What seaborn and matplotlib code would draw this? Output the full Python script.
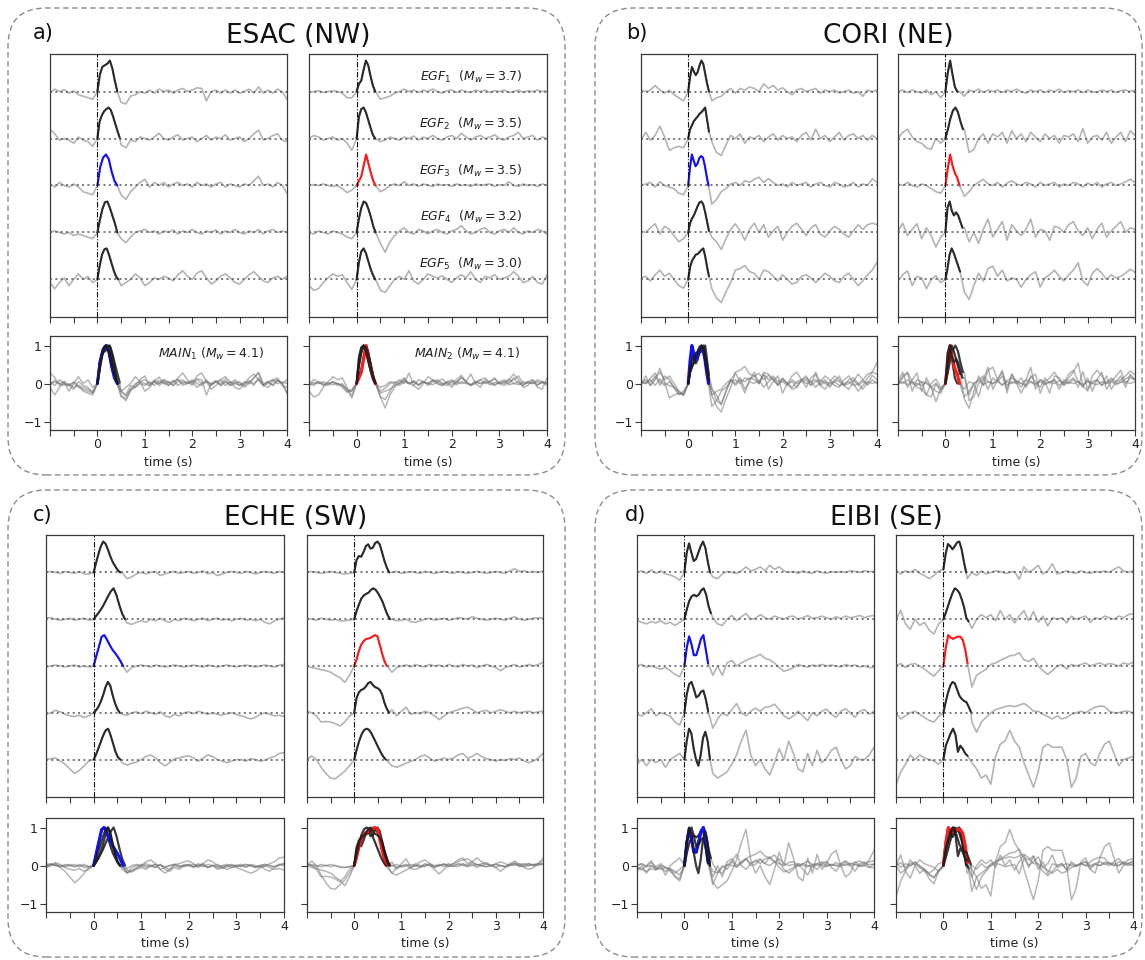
import numpy as np
import matplotlib
matplotlib.use("Agg")
import matplotlib.pyplot as plt
import seaborn as sns
from matplotlib.patches import FancyBboxPatch

# ---------------------------------------------------------------------------
# Data: normalised waveforms on a 0.1 s grid from -1 s to 4 s (51 samples);
# the RSTF pulses are sampled finely from 0 s to their end time.
# ---------------------------------------------------------------------------
EGF_MW = [3.7, 3.5, 3.5, 3.2, 3.0]
MAIN_MW = [4.1, 4.1]
STATIONS = ["ESAC (NW)", "CORI (NE)", "ECHE (SW)", "EIBI (SE)"]
PANEL_TAGS = ["a)", "b)", "c)", "d)"]

# ---- ESAC, MAIN 1 ----
ESAC_M1_TRACES = [
    [-0.05, 0.08, 0.0, 0.06, -0.05, 0.02, -0.1, -0.15, -0.2, -0.25,
     0.0, 0.82, 0.9, 0.95, 0.1, -0.35, -0.4, -0.15, -0.1, 0.0,
     -0.05, 0.05, -0.05, 0.08, 0.0, 0.05, -0.05, 0.05, 0.1, 0.0,
     0.05, 0.12, 0.1, -0.3, 0.0, 0.05, -0.05, 0.05, -0.05, 0.05,
     -0.05, 0.0, 0.08, -0.05, 0.15, -0.05, 0.05, -0.05, 0.08, 0.0, -0.25],
    [0.3, 0.15, -0.05, 0.0, -0.05, -0.15, 0.05, -0.05, -0.1, -0.25,
     0.0, 0.8, 0.95, 0.8, 0.4, -0.2, -0.3, -0.05, -0.1, 0.05,
     0.0, -0.05, 0.05, 0.17, 0.0, -0.05, 0.05, 0.12, -0.05, 0.0,
     0.05, -0.1, 0.0, 0.1, -0.05, 0.05, 0.0, 0.12, -0.05, 0.0,
     0.05, -0.1, 0.0, 0.15, 0.27, -0.05, 0.0, 0.1, 0.15, -0.05, -0.1],
    [0.05, -0.05, 0.1, 0.0, -0.05, 0.05, -0.05, -0.2, -0.25, -0.3,
     0.0, 0.75, 1.0, 0.8, 0.1, -0.3, -0.45, -0.2, -0.05, 0.1,
     0.2, -0.05, 0.1, 0.0, 0.1, -0.05, 0.05, 0.1, 0.0, 0.05,
     -0.05, 0.1, 0.0, 0.05, -0.05, 0.05, 0.1, -0.05, 0.05, 0.0,
     -0.05, 0.05, 0.0, 0.15, 0.3, 0.0, 0.05, -0.05, 0.1, 0.0, -0.25],
    [0.0, 0.05, 0.0, -0.05, 0.0, -0.1, -0.05, -0.1, -0.15, -0.2,
     0.0, 0.75, 1.0, 0.65, 0.15, -0.2, -0.33, -0.15, 0.0, 0.05,
     0.1, 0.0, 0.05, -0.05, 0.05, 0.0, 0.08, -0.05, 0.05, 0.0,
     0.1, 0.0, -0.05, 0.05, 0.0, 0.08, -0.05, 0.05, 0.0, 0.1,
     0.0, -0.05, 0.05, 0.0, 0.1, -0.05, 0.05, 0.1, 0.0, 0.05, 0.0],
    [-0.1, -0.3, -0.1, 0.05, -0.2, 0.0, 0.18, 0.0, 0.1, -0.1,
     0.0, 0.75, 1.0, 0.7, 0.35, -0.2, -0.1, 0.0, 0.18, 0.05,
     -0.2, -0.1, 0.05, 0.0, 0.1, 0.05, -0.05, 0.15, 0.28, 0.1,
     0.0, 0.2, 0.28, 0.05, -0.15, -0.05, 0.1, 0.18, 0.05, -0.1,
     -0.15, 0.0, 0.15, 0.25, 0.1, -0.05, -0.1, 0.05, 0.1, 0.0, 0.1],
]
ESAC_M1_RSTF = [
    [0, 0.55, 0.8, 0.85, 0.9, 1.0, 0.75, 0.35, 0.0],
    [0, 0.55, 0.75, 0.88, 0.95, 1.0, 0.92, 0.72, 0.48, 0.25, 0.03],
    [0, 0.6, 0.9, 1.0, 0.85, 0.45, 0.15, 0.0],
    [0, 0.4, 0.75, 0.97, 1.0, 0.8, 0.55, 0.3, 0.0],
    [0, 0.45, 0.8, 0.97, 1.0, 0.8, 0.55, 0.3, 0.1, 0.0],
]
ESAC_M1_RSTF_END = [0.42, 0.47, 0.42, 0.42, 0.44]

# ---- ESAC, MAIN 2 ----
ESAC_M2_TRACES = [
    [-0.03, 0.0, 0.03, -0.03, 0.0, 0.03, 0.0, -0.05, -0.2, -0.2,
     0.0, 0.5, 1.0, 0.55, 0.0, -0.25, -0.2, -0.15, -0.05, 0.0,
     0.08, 0.0, 0.05, -0.03, 0.05, 0.0, 0.08, 0.0, -0.05, 0.03,
     0.05, -0.03, 0.05, 0.0, -0.03, 0.05, 0.0, 0.05, -0.03, 0.03,
     0.0, 0.05, -0.03, 0.0, 0.05, -0.03, 0.03, 0.0, 0.05, 0.0, 0.03],
    [0.0, 0.1, 0.05, -0.05, 0.0, 0.05, -0.05, 0.0, -0.15, -0.38,
     0.0, 0.8, 0.9, 0.4, 0.0, -0.1, -0.05, 0.05, 0.0, -0.05,
     0.05, 0.0, 0.08, -0.05, 0.05, 0.0, 0.1, 0.0, -0.05, 0.05,
     0.1, 0.0, 0.17, 0.05, -0.05, 0.05, 0.1, 0.0, 0.05, 0.12,
     0.0, -0.05, 0.05, 0.1, 0.2, 0.0, 0.05, 0.1, -0.05, 0.05, 0.0],
    [0.0, 0.03, 0.0, 0.05, 0.0, -0.03, 0.0, -0.1, -0.23, -0.15,
     0.0, 0.3, 0.95, 0.4, 0.0, -0.2, -0.12, 0.0, 0.05, 0.0,
     0.12, 0.0, 0.05, -0.03, 0.05, 0.0, -0.03, 0.05, 0.0, 0.03,
     -0.03, 0.05, 0.0, 0.03, -0.03, 0.05, 0.0, 0.03, 0.05, -0.03,
     0.03, 0.0, 0.12, 0.0, -0.03, 0.05, 0.0, 0.03, -0.03, 0.05, 0.0],
    [0.0, -0.05, 0.05, 0.0, -0.05, 0.05, 0.0, -0.05, -0.15, -0.2,
     0.0, 0.7, 0.95, 0.55, 0.1, -0.35, -0.64, -0.3, -0.1, 0.05,
     0.15, 0.0, -0.05, 0.1, 0.05, -0.05, 0.05, 0.1, 0.0, -0.05,
     0.05, 0.1, 0.22, 0.05, -0.05, 0.0, 0.1, 0.15, 0.0, -0.05,
     0.05, 0.1, 0.0, 0.15, 0.0, -0.05, 0.05, 0.0, 0.1, 0.05, -0.05],
    [-0.2, -0.35, -0.3, -0.1, 0.05, 0.18, 0.1, 0.15, -0.1, -0.32,
     0.0, 0.85, 0.9, 0.5, 0.0, -0.35, -0.42, -0.2, 0.0, 0.1,
     0.0, 0.28, -0.05, -0.15, 0.0, 0.18, 0.1, 0.05, 0.12, 0.0,
     -0.1, 0.05, 0.15, 0.05, 0.25, 0.0, -0.1, 0.1, 0.05, 0.15,
     0.0, 0.05, 0.1, 0.25, 0.1, -0.1, -0.05, 0.1, -0.1, -0.15, 0.15],
]
ESAC_M2_RSTF = [
    [0, 0.25, 0.35, 0.7, 1.0, 0.85, 0.5, 0.2, 0.0],
    [0, 0.7, 0.95, 1.0, 0.85, 0.6, 0.35, 0.12, 0.0],
    [0, 0.15, 0.3, 0.65, 1.0, 0.7, 0.4, 0.15, 0.0],
    [0, 0.45, 0.8, 1.0, 0.95, 0.75, 0.5, 0.2, 0.0],
    [0, 0.55, 0.9, 1.0, 0.85, 0.6, 0.35, 0.15, 0.0],
]
ESAC_M2_RSTF_END = [0.39, 0.39, 0.40, 0.40, 0.39]

# ---- CORI, MAIN 1 ----
CORI_M1_TRACES = [
    [0.05, 0.0, 0.05, 0.2, 0.05, -0.05, 0.05, -0.1, -0.2, -0.3,
     0.0, 0.75, 0.55, 0.95, 0.2, -0.3, -0.2, -0.15, 0.0, 0.1,
     -0.05, 0.1, 0.05, 0.15, 0.1, 0.0, 0.25, 0.1, 0.2, 0.05,
     0.12, 0.0, -0.1, 0.05, 0.1, 0.0, 0.05, 0.1, -0.05, 0.05,
     0.0, 0.05, -0.05, 0.0, 0.05, -0.05, 0.0, -0.15, 0.05, 0.0, 0.05],
    [-0.05, 0.2, -0.05, 0.1, 0.4, 0.05, -0.38, -0.3, -0.25, -0.3,
     0.0, 0.35, 0.55, 0.8, 0.6, -0.1, -0.45, -0.55, -0.2, 0.1,
     0.0, 0.15, -0.15, 0.05, 0.0, 0.1, -0.1, 0.05, 0.15, -0.05,
     0.1, 0.0, 0.05, -0.1, 0.1, 0.2, -0.05, 0.3, 0.0, 0.1,
     -0.1, 0.05, 0.2, -0.05, 0.1, 0.15, 0.0, 0.1, -0.05, 0.1, 0.0],
    [0.0, 0.05, 0.1, -0.05, 0.12, 0.0, -0.05, -0.1, -0.25, -0.3,
     0.0, 0.85, 0.7, 0.9, 0.2, -0.6, -0.45, -0.2, -0.1, 0.05,
     0.1, 0.0, 0.15, 0.1, 0.2, 0.27, 0.1, 0.22, 0.1, 0.0,
     0.05, -0.05, 0.1, 0.0, 0.05, 0.1, -0.05, 0.05, 0.1, 0.0,
     -0.05, 0.1, 0.05, -0.05, 0.0, 0.1, -0.05, 0.05, 0.0, 0.22, 0.1],
    [0.05, 0.0, 0.15, 0.28, -0.05, 0.2, 0.1, -0.1, -0.3, -0.2,
     0.0, 0.5, 0.8, 0.85, 0.3, -0.15, -0.3, -0.55, -0.2, 0.1,
     0.28, 0.05, -0.25, 0.1, 0.3, 0.0, 0.25, -0.15, 0.05, 0.2,
     -0.25, 0.0, 0.2, 0.3, 0.1, -0.1, 0.15, 0.25, -0.05, -0.15,
     0.05, 0.2, 0.1, -0.05, -0.15, 0.05, 0.25, 0.1, 0.25, 0.3, 0.25],
    [0.05, 0.1, -0.05, 0.15, 0.3, 0.1, 0.2, 0.0, -0.2, -0.28,
     0.0, 0.65, 0.85, 0.95, 0.2, -0.3, -0.6, -0.75, -0.4, -0.1,
     0.3, 0.35, 0.45, 0.25, 0.2, 0.0, 0.3, 0.25, 0.1, -0.05,
     0.15, 0.0, -0.15, -0.1, 0.1, 0.15, 0.05, -0.1, 0.05, 0.2,
     0.1, -0.05, -0.1, 0.1, 0.2, 0.0, -0.2, -0.05, 0.15, 0.3, 0.55],
]
CORI_M1_RSTF = [
    [0, 0.47, 0.79, 0.65, 0.53, 0.63, 0.84, 1.0, 0.89, 0.58, 0.26, 0.0],
    [0, 0.3, 0.43, 0.56, 0.64, 0.71, 0.8, 0.85, 0.92, 1.0, 0.61, 0.22],
    [0, 0.6, 1.0, 0.8, 0.62, 0.7, 0.88, 0.95, 0.9, 0.65, 0.3, 0.0],
    [0, 0.3, 0.45, 0.55, 0.7, 0.85, 0.97, 1.0, 0.9, 0.65, 0.35, 0.05],
    [0, 0.4, 0.6, 0.7, 0.8, 0.82, 0.88, 0.95, 1.0, 0.75, 0.4, 0.1],
]
CORI_M1_RSTF_END = [0.44, 0.44, 0.43, 0.44, 0.44]

# ---- CORI, MAIN 2 ----
CORI_M2_TRACES = [
    [0.0, 0.05, -0.03, 0.05, 0.0, -0.05, 0.05, -0.1, 0.0, -0.2,
     0.0, 0.95, 0.35, 0.0, -0.15, 0.05, 0.0, 0.08, -0.03, 0.05,
     0.0, 0.05, -0.03, 0.05, 0.0, 0.08, 0.0, -0.05, 0.05, 0.0,
     0.05, -0.03, 0.05, 0.0, 0.08, -0.03, 0.03, 0.0, 0.05, -0.03,
     0.05, 0.0, -0.03, 0.05, 0.0, 0.05, -0.03, 0.03, 0.05, 0.0, 0.05],
    [0.0, 0.2, 0.3, 0.05, -0.1, -0.15, -0.3, -0.35, 0.0, -0.15,
     0.0, 0.55, 0.95, 0.75, 0.3, -0.45, -0.35, 0.0, 0.15, -0.15,
     0.15, 0.05, 0.2, -0.15, 0.25, 0.0, 0.15, -0.1, 0.2, 0.05,
     -0.1, 0.15, 0.0, 0.1, -0.15, 0.1, 0.05, 0.15, -0.1, 0.32,
     -0.15, 0.05, 0.1, -0.05, 0.2, -0.15, 0.05, 0.2, -0.1, 0.25, 0.1],
    [0.05, 0.0, 0.1, 0.0, -0.05, 0.05, 0.0, -0.1, -0.2, -0.25,
     0.0, 0.95, 0.45, 0.05, -0.35, -0.2, 0.0, 0.1, 0.2, 0.05,
     0.0, 0.1, -0.05, 0.08, 0.15, 0.05, 0.0, 0.1, 0.05, -0.05,
     0.1, 0.0, 0.05, 0.1, -0.05, 0.05, 0.0, 0.1, 0.05, -0.05,
     0.08, 0.0, 0.1, -0.05, 0.05, 0.1, 0.0, 0.05, 0.12, 0.2, 0.1],
    [0.05, 0.3, -0.1, 0.1, 0.28, -0.2, 0.15, -0.1, -0.47, -0.15,
     0.0, 0.9, 0.55, 0.6, 0.15, -0.3, 0.0, -0.35, 0.1, 0.43,
     -0.15, 0.1, 0.35, -0.25, 0.25, 0.05, -0.1, 0.1, 0.43, -0.15,
     0.1, 0.05, -0.25, 0.2, 0.15, 0.0, 0.25, 0.35, 0.05, -0.1,
     0.15, -0.2, 0.1, 0.3, -0.15, 0.05, 0.2, 0.35, 0.0, 0.15, 0.1],
    [-0.05, 0.15, 0.28, -0.2, 0.1, 0.05, -0.3, 0.0, 0.12, -0.1,
     0.0, 0.95, 0.6, 0.3, -0.4, -0.65, -0.2, 0.2, -0.05, 0.35,
     0.43, 0.1, 0.3, -0.05, 0.05, 0.0, -0.25, 0.0, 0.15, 0.25,
     -0.25, 0.05, 0.15, 0.3, 0.1, -0.05, 0.15, 0.3, 0.54, -0.05,
     -0.2, 0.2, 0.35, 0.2, 0.0, 0.15, 0.05, 0.1, 0.2, 0.33, 0.23],
]
CORI_M2_RSTF = [
    [0, 0.6, 1.0, 0.55, 0.15, 0.0],
    [0, 0.3, 0.65, 0.9, 1.0, 0.85, 0.55, 0.3],
    [0, 0.55, 1.0, 0.65, 0.4, 0.25, 0.0],
    [0, 0.8, 1.0, 0.7, 0.55, 0.65, 0.55, 0.35, 0.15],
    [0, 0.35, 0.8, 1.0, 0.85, 0.65, 0.45, 0.25],
]
CORI_M2_RSTF_END = [0.25, 0.37, 0.30, 0.36, 0.31]

# ---- ECHE, MAIN 1 ----
ECHE_M1_TRACES = [
    [0.0, 0.03, 0.0, -0.03, 0.03, 0.0, -0.03, 0.03, -0.05, -0.05,
     0.0, 0.7, 0.98, 0.65, 0.35, 0.15, 0.0, -0.2, -0.15, -0.05,
     0.0, -0.05, 0.0, 0.03, -0.1, -0.05, 0.0, 0.03, -0.03, 0.0,
     0.03, -0.03, 0.0, 0.05, -0.05, 0.0, -0.1, -0.05, 0.0, 0.03,
     0.0, -0.03, 0.03, 0.0, -0.05, 0.0, 0.03, 0.0, -0.03, 0.03, 0.0],
    [0.03, 0.05, 0.0, -0.03, 0.0, 0.03, -0.03, 0.0, 0.03, -0.03,
     0.0, 0.12, 0.28, 0.5, 0.92, 0.62, 0.15, -0.12, -0.17, -0.1,
     -0.05, -0.1, 0.0, -0.05, 0.03, -0.05, -0.1, 0.0, -0.05, 0.03,
     0.0, -0.05, 0.0, 0.03, -0.05, 0.0, 0.03, -0.03, 0.0, -0.05,
     0.0, 0.03, -0.03, 0.0, -0.05, 0.0, -0.1, -0.15, -0.05, 0.0, 0.05],
    [-0.03, 0.0, 0.03, 0.0, -0.03, 0.0, 0.03, -0.03, 0.0, -0.03,
     0.0, 0.6, 0.95, 0.75, 0.55, 0.35, 0.15, -0.2, -0.05, 0.0,
     0.03, 0.0, -0.03, 0.03, 0.0, -0.03, 0.0, 0.03, 0.0, -0.03,
     0.0, 0.03, 0.0, -0.03, 0.03, 0.0, -0.03, 0.0, 0.03, 0.0,
     -0.03, 0.0, 0.03, 0.0, -0.03, 0.0, 0.03, 0.0, -0.03, 0.03, 0.05],
    [-0.05, 0.0, 0.08, 0.03, -0.05, -0.1, -0.12, -0.08, -0.15, -0.1,
     0.0, 0.15, 0.35, 0.9, 0.4, 0.1, -0.05, -0.08, 0.0, 0.03,
     -0.03, 0.05, 0.0, -0.05, 0.03, -0.1, -0.15, -0.05, -0.1, 0.0,
     0.03, -0.03, 0.05, 0.0, -0.05, 0.0, -0.05, -0.08, -0.03, 0.0,
     -0.05, -0.1, -0.15, -0.2, -0.15, -0.05, 0.0, -0.05, -0.1, -0.08, -0.12],
    [0.0, 0.03, 0.05, -0.05, -0.15, -0.3, -0.45, -0.35, -0.2, -0.05,
     0.0, 0.25, 0.6, 0.92, 0.5, 0.1, -0.1, -0.18, -0.12, -0.08,
     0.0, 0.1, 0.15, 0.05, -0.1, -0.2, -0.1, 0.03, 0.05, 0.1,
     0.12, 0.05, -0.05, 0.05, 0.15, 0.1, 0.0, -0.05, -0.1, -0.05,
     0.0, 0.0, -0.05, 0.03, 0.0, -0.05, -0.02, 0.05, 0.1, 0.2, 0.22],
]
ECHE_M1_RSTF = [
    [0, 0.3, 0.6, 0.85, 1.0, 0.92, 0.72, 0.5, 0.32, 0.19, 0.07, 0.0],
    [0, 0.12, 0.24, 0.38, 0.55, 0.73, 0.9, 1.0, 0.78, 0.46, 0.18, 0.0],
    [0, 0.32, 0.63, 0.95, 1.0, 0.85, 0.68, 0.53, 0.42, 0.3, 0.16, 0.0],
    [0, 0.08, 0.19, 0.36, 0.57, 0.83, 1.0, 0.88, 0.57, 0.31, 0.12, 0.0],
    [0, 0.16, 0.37, 0.58, 0.79, 0.95, 1.0, 0.79, 0.53, 0.26, 0.08, 0.0],
]
ECHE_M1_RSTF_END = [0.56, 0.66, 0.62, 0.55, 0.56]

# ---- ECHE, MAIN 2 ----
ECHE_M2_TRACES = [
    [0.0, 0.03, 0.0, -0.03, 0.0, 0.03, 0.0, -0.03, -0.05, -0.03,
     0.0, 0.5, 0.6, 0.85, 0.72, 0.93, 0.6, 0.1, 0.0, 0.03,
     -0.03, 0.0, 0.03, 0.0, -0.03, 0.03, 0.0, -0.03, 0.0, 0.03,
     0.0, -0.03, 0.03, 0.0, -0.03, 0.0, 0.03, 0.0, -0.03, 0.0,
     0.03, 0.0, -0.03, 0.05, 0.12, 0.03, 0.05, 0.0, 0.03, 0.0, 0.05],
    [0.03, 0.0, -0.03, 0.03, 0.0, -0.03, 0.0, -0.05, -0.05, -0.03,
     0.0, 0.6, 0.76, 0.8, 0.93, 0.78, 0.55, 0.15, 0.0, -0.05,
     -0.03, 0.0, -0.08, -0.1, -0.05, 0.0, 0.03, -0.03, 0.0, 0.03,
     -0.03, 0.0, 0.05, 0.03, 0.0, 0.08, 0.03, 0.0, -0.03, 0.0,
     0.03, 0.0, -0.03, 0.03, 0.08, 0.0, -0.03, 0.0, 0.03, 0.05, 0.03],
    [0.0, -0.05, -0.08, -0.12, -0.15, -0.2, -0.3, -0.38, -0.53, -0.3,
     0.0, 0.4, 0.74, 0.84, 0.88, 0.94, 0.6, 0.0, -0.2, -0.05,
     0.0, 0.03, -0.03, 0.05, 0.0, -0.03, 0.05, 0.0, 0.03, -0.03,
     0.05, 0.0, -0.03, 0.05, 0.0, 0.03, -0.05, 0.0, 0.05, 0.0,
     -0.05, -0.15, -0.05, 0.0, 0.05, -0.03, 0.0, 0.05, 0.0, 0.05, 0.12],
    [0.05, 0.0, -0.1, -0.3, -0.28, -0.3, -0.35, -0.43, -0.3, -0.1,
     0.0, 0.6, 0.72, 0.9, 0.8, 0.72, 0.45, 0.0, 0.1, -0.1,
     0.05, 0.18, -0.05, 0.0, -0.03, 0.05, 0.0, -0.1, -0.22, -0.1,
     0.0, 0.05, 0.1, 0.15, 0.18, 0.1, 0.0, 0.05, 0.08, 0.0,
     0.05, 0.1, 0.05, 0.0, 0.05, 0.0, 0.03, 0.05, 0.0, 0.03, 0.05],
    [0.0, 0.12, 0.0, -0.25, -0.45, -0.6, -0.62, -0.5, -0.38, -0.2,
     0.0, 0.5, 0.82, 0.9, 0.65, 0.4, 0.1, -0.05, -0.2, -0.25,
     -0.18, -0.12, -0.05, 0.0, 0.1, 0.15, 0.05, -0.05, 0.0, 0.05,
     0.0, 0.05, 0.15, 0.2, 0.05, 0.1, 0.2, 0.1, 0.03, 0.0,
     -0.05, 0.0, -0.03, 0.03, 0.0, 0.05, -0.05, -0.1, -0.05, 0.05, 0.2],
]
ECHE_M2_RSTF = [
    [0, 0.4, 0.53, 0.51, 0.66, 0.85, 0.91, 0.77, 0.8, 0.95, 1.0, 0.9, 0.64, 0.37, 0.16, 0.0],
    [0, 0.27, 0.48, 0.67, 0.77, 0.82, 0.86, 0.95, 1.0, 0.95, 0.84, 0.7, 0.54, 0.32, 0.13, 0.0],
    [0, 0.21, 0.48, 0.69, 0.8, 0.87, 0.89, 0.91, 0.96, 1.0, 0.96, 0.69, 0.4, 0.16, 0.0],
    [0, 0.48, 0.66, 0.74, 0.77, 0.85, 0.96, 1.0, 0.9, 0.83, 0.8, 0.74, 0.59, 0.32, 0.13, 0.0],
    [0, 0.32, 0.59, 0.81, 0.95, 1.0, 0.97, 0.86, 0.7, 0.54, 0.38, 0.22, 0.09, 0.0],
]
ECHE_M2_RSTF_END = [0.74, 0.76, 0.69, 0.74, 0.67]

# ---- EIBI, MAIN 1 ----
EIBI_M1_TRACES = [
    [0.0, 0.05, -0.03, 0.08, -0.03, 0.05, -0.05, -0.08, -0.15, -0.25,
     0.0, 0.8, 0.45, 0.55, 0.9, 0.3, -0.15, -0.2, -0.05, 0.03,
     0.0, -0.03, 0.05, 0.18, 0.05, 0.1, 0.18, 0.05, 0.23, 0.1,
     0.18, 0.05, 0.0, 0.03, -0.03, 0.05, 0.0, -0.03, 0.05, 0.0,
     -0.03, 0.03, 0.0, 0.03, 0.0, 0.05, 0.03, 0.0, 0.05, 0.03, 0.03],
    [-0.05, -0.1, -0.15, -0.08, -0.12, -0.05, -0.15, -0.1, -0.2, -0.1,
     0.0, 0.45, 0.72, 0.74, 0.93, 0.35, 0.05, -0.15, -0.2, 0.0,
     0.12, -0.05, 0.08, 0.18, 0.0, 0.03, 0.15, 0.05, 0.0, 0.1,
     0.05, 0.0, 0.08, 0.1, 0.0, 0.05, 0.12, 0.03, 0.05, 0.1,
     0.05, 0.0, 0.08, 0.03, 0.1, 0.05, 0.08, 0.12, 0.05, 0.1, 0.12],
    [0.0, 0.05, -0.03, 0.0, -0.05, -0.1, -0.05, -0.15, -0.27, -0.35,
     0.0, 0.88, 0.3, 0.75, 0.85, -0.25, -0.3, 0.0, -0.3, 0.1,
     0.18, 0.0, 0.1, 0.18, 0.25, 0.3, 0.38, 0.25, 0.2, 0.1,
     -0.05, -0.17, -0.12, -0.05, 0.05, 0.0, -0.03, 0.03, 0.0, 0.05,
     0.0, 0.03, 0.0, -0.03, 0.05, 0.0, 0.03, -0.03, 0.0, -0.05, -0.05],
    [-0.05, -0.1, 0.0, 0.13, -0.1, 0.0, -0.05, -0.1, -0.3, -0.4,
     0.0, 0.85, 0.5, 0.65, 0.45, -0.25, -0.5, -0.2, 0.0, -0.1,
     0.1, 0.3, 0.0, -0.1, 0.05, 0.15, 0.05, 0.18, 0.2, 0.28,
     0.1, -0.1, -0.2, -0.1, 0.05, -0.1, -0.25, 0.0, -0.1, 0.05,
     0.12, -0.05, -0.15, 0.05, 0.13, 0.0, -0.15, 0.05, 0.1, -0.05, 0.05],
    [-0.15, 0.0, -0.2, 0.0, -0.1, 0.0, -0.25, 0.0, 0.1, 0.2,
     0.0, 0.85, 0.3, -0.15, 0.55, 0.2, -0.45, -0.6, -0.5, -0.4,
     -0.15, 0.15, 0.6, 0.95, 0.15, -0.2, 0.0, -0.3, -0.5, -0.1,
     0.35, 0.0, 0.6, 0.2, -0.3, -0.4, 0.2, -0.2, 0.3, -0.1,
     0.05, 0.3, 0.4, 0.0, -0.3, -0.2, 0.1, 0.0, 0.0, 0.15, 0.4],
]
EIBI_M1_RSTF = [
    [0, 0.64, 0.94, 0.64, 0.37, 0.43, 0.64, 0.85, 1.0, 0.8, 0.37, 0.0],
    [0, 0.32, 0.59, 0.74, 0.79, 0.74, 0.8, 0.94, 1.0, 0.8, 0.43, 0.19],
    [0, 0.6, 0.96, 0.7, 0.35, 0.35, 0.6, 0.88, 1.0, 0.55, 0.08],
    [0, 0.6, 0.93, 1.0, 0.77, 0.5, 0.55, 0.68, 0.72, 0.45, 0.05],
    [0, 0.6, 1.0, 0.85, 0.35, 0.0, -0.2, 0.15, 0.7, 0.9, 0.6, 0.0],
]
EIBI_M1_RSTF_END = [0.54, 0.56, 0.50, 0.50, 0.54]

# ---- EIBI, MAIN 2 ----
EIBI_M2_TRACES = [
    [0.08, -0.05, 0.05, 0.0, 0.1, -0.03, -0.1, -0.2, -0.1, 0.05,
     0.0, 0.9, 0.75, 0.94, 0.5, -0.2, 0.0, -0.1, 0.05, -0.05,
     0.0, 0.05, 0.03, -0.03, 0.0, 0.03, -0.22, 0.18, 0.0, 0.1,
     0.23, -0.05, 0.05, 0.28, -0.05, 0.0, 0.05, 0.0, -0.03, 0.05,
     0.0, -0.03, 0.03, 0.0, 0.05, 0.0, 0.1, 0.18, 0.05, 0.0, 0.05],
    [0.0, 0.28, -0.15, -0.33, 0.0, -0.2, -0.1, -0.35, -0.48, -0.15,
     0.0, 0.35, 0.7, 0.92, 0.6, 0.1, -0.3, 0.0, 0.15, 0.05,
     0.15, -0.05, 0.28, 0.0, 0.15, -0.12, 0.1, 0.28, -0.05, 0.25,
     -0.1, 0.1, -0.22, 0.05, 0.0, 0.05, -0.12, 0.1, 0.0, 0.05,
     0.1, -0.1, 0.05, 0.0, 0.1, 0.05, 0.0, 0.1, 0.05, 0.15, 0.18],
    [0.0, 0.08, -0.05, 0.05, 0.08, 0.0, -0.1, -0.22, -0.33, -0.15,
     0.0, 0.94, 0.85, 0.9, 0.85, 0.2, -0.68, -0.3, -0.2, -0.1,
     0.05, 0.1, 0.18, 0.25, 0.33, 0.35, 0.43, 0.2, 0.15, 0.25,
     0.0, -0.15, -0.27, -0.15, 0.0, 0.05, -0.1, 0.05, 0.0, 0.05,
     0.1, 0.0, 0.05, 0.1, 0.03, 0.08, 0.05, 0.0, 0.1, 0.05, 0.12],
    [0.0, -0.2, -0.1, 0.0, 0.05, -0.05, -0.15, -0.25, -0.3, -0.12,
     0.0, 0.65, 0.9, 0.6, 0.38, 0.3, -0.3, -0.63, -0.3, -0.15,
     0.0, 0.1, 0.15, 0.2, 0.23, 0.2, 0.25, 0.3, 0.2, 0.05,
     0.05, -0.05, -0.12, -0.2, -0.1, -0.2, -0.15, -0.05, 0.0, 0.05,
     0.0, 0.1, 0.18, 0.22, 0.2, 0.05, 0.0, 0.0, 0.05, 0.05, 0.0],
    [-0.82, -0.4, -0.15, 0.15, 0.0, 0.15, 0.05, 0.0, -0.05, -0.15,
     0.0, 0.45, 0.75, 0.4, 0.4, 0.15, -0.1, -0.3, -0.6, -0.5,
     -0.8, 0.1, 0.5, 0.6, 0.95, 0.6, 0.4, -0.1, -0.5, -0.9,
     -0.4, 0.4, 0.5, 0.4, 0.4, 0.4, 0.0, -0.9, -0.6, 0.1,
     0.2, -0.1, -0.2, 0.2, 0.5, 0.6, 0.2, -0.2, 0.0, 0.05, 0.1],
]
EIBI_M2_RSTF = [
    [0.1, 0.6, 0.92, 0.85, 0.75, 0.85, 0.97, 1.0, 0.75, 0.35, 0.0],
    [0, 0.2, 0.42, 0.65, 0.85, 1.0, 0.95, 0.85, 0.65, 0.4, 0.05, -0.07],
    [0, 0.6, 1.0, 0.92, 0.88, 0.92, 0.95, 0.95, 0.85, 0.55, 0.08],
    [0, 0.35, 0.65, 0.88, 1.0, 0.95, 0.75, 0.55, 0.45, 0.38, 0.35, 0.2, 0.03],
    [0, 0.45, 0.65, 0.85, 1.0, 0.8, 0.25, 0.45, 0.35, 0.2, 0.12],
]
EIBI_M2_RSTF_END = [0.48, 0.53, 0.51, 0.58, 0.51]

COLUMNS = [
    [(ESAC_M1_TRACES, ESAC_M1_RSTF, ESAC_M1_RSTF_END),
     (ESAC_M2_TRACES, ESAC_M2_RSTF, ESAC_M2_RSTF_END)],
    [(CORI_M1_TRACES, CORI_M1_RSTF, CORI_M1_RSTF_END),
     (CORI_M2_TRACES, CORI_M2_RSTF, CORI_M2_RSTF_END)],
    [(ECHE_M1_TRACES, ECHE_M1_RSTF, ECHE_M1_RSTF_END),
     (ECHE_M2_TRACES, ECHE_M2_RSTF, ECHE_M2_RSTF_END)],
    [(EIBI_M1_TRACES, EIBI_M1_RSTF, EIBI_M1_RSTF_END),
     (EIBI_M2_TRACES, EIBI_M2_RSTF, EIBI_M2_RSTF_END)],
]

# ---------------------------------------------------------------------------
# Layout (pixel positions on a 1145 x 960 canvas)
# ---------------------------------------------------------------------------
W, H = 1145, 960
LAYOUT = [
    dict(box=(8, 8, 565, 475), tag=(43, 33), title=(298, 36),
         cols=[(50, 287), (309, 547)], top=(54, 317), bot=(336, 430)),
    dict(box=(595, 8, 1142, 475), tag=(637, 33), title=(888, 36),
         cols=[(641, 877), (898, 1135)], top=(54, 317), bot=(336, 430)),
    dict(box=(8, 490, 565, 957), tag=(43, 515), title=(296, 518),
         cols=[(46, 284), (307, 543)], top=(535, 797), bot=(818, 912)),
    dict(box=(595, 490, 1142, 957), tag=(636, 515), title=(886, 518),
         cols=[(637, 874), (896, 1133)], top=(535, 797), bot=(818, 912)),
]
SCALE = 0.66          # amplitude of a normalised trace relative to trace spacing
HIGHLIGHT = ["#1010ff", "#ff1a1a"]   # EGF3 colour for MAIN 1 / MAIN 2
GREY_TOP = "#b4b4b4"
INK = "#2b2b2b"

sns.set_theme(style="ticks")
plt.rcParams["font.family"] = ["DejaVu Sans"]
plt.rcParams["mathtext.fontset"] = "dejavusans"
plt.rcParams["axes.edgecolor"] = "#3a3a3a"
plt.rcParams["axes.linewidth"] = 0.9

fig = plt.figure(figsize=(W / 100, H / 100), dpi=100)


def add_axes_px(x0, x1, y0, y1):
    return fig.add_axes([x0 / W, 1 - y1 / H, (x1 - x0) / W, (y1 - y0) / H])


def merge(trace, rstf, end):
    """Join the waveform outside the pulse window with the finely sampled pulse."""
    tg = np.linspace(-1.0, 4.0, len(trace))
    v = np.asarray(trace, float)
    tp = np.linspace(0.0, end, len(rstf))
    pv = np.asarray(rstf, float)
    pre = tg < -1e-9
    post = tg > end + 1e-9
    return (np.concatenate([tg[pre], tp, tg[post]]),
            np.concatenate([v[pre], pv, v[post]]), tp, pv)


def draw_line(ax, x, y, **kw):
    sns.lineplot(x=x, y=y, ax=ax, sort=False, estimator=None, legend=False, **kw)


def style_time_axis(ax, with_labels):
    ticks = np.arange(-1.0, 4.01, 0.5)
    ax.set_xlim(-1.0, 4.0)
    ax.set_xticks(ticks)
    if with_labels:
        ax.set_xticklabels([str(int(v)) if (v >= 0 and v == int(v)) else "" for v in ticks])
    else:
        ax.set_xticklabels([])
    ax.tick_params(axis="both", direction="out", length=4, width=0.8,
                   colors="#3a3a3a", labelcolor="#222222", labelsize=9, pad=2)
    for s in ax.spines.values():
        s.set_visible(True)
        s.set_color("#3a3a3a")
        s.set_linewidth(0.9)


for p, lay in enumerate(LAYOUT):
    bx0, by0, bx1, by1 = lay["box"]
    fig.add_artist(FancyBboxPatch(
        (bx0 / 100, (H - by1) / 100), (bx1 - bx0) / 100, (by1 - by0) / 100,
        boxstyle="round,pad=0,rounding_size=0.38", transform=fig.dpi_scale_trans,
        fill=False, ec="#8c8c8c", lw=1.0, ls=(0, (4, 2.5))))
    fig.text(lay["tag"][0] / W, 1 - lay["tag"][1] / H, PANEL_TAGS[p],
             fontsize=15, ha="center", va="center", color="#111111")
    fig.text(lay["title"][0] / W, 1 - lay["title"][1] / H, STATIONS[p],
             fontsize=19, ha="center", va="center", color="#111111")

    for c, (traces, rstfs, ends) in enumerate(COLUMNS[p]):
        x0, x1 = lay["cols"][c]
        ax_t = add_axes_px(x0, x1, *lay["top"])
        ax_b = add_axes_px(x0, x1, *lay["bot"])

        # stacked EGF traces
        for i in range(len(traces)):
            t, y, tp, pv = merge(traces[i], rstfs[i], ends[i])
            draw_line(ax_t, t, -i + SCALE * y, color=GREY_TOP, linewidth=1.2, zorder=2)
            ax_t.axhline(-i, color="#555555", lw=1.1, ls=(0, (1.3, 2.2)), zorder=3)
            col = HIGHLIGHT[c] if i == 2 else INK
            draw_line(ax_t, tp, -i + SCALE * pv, color=col, linewidth=1.5, zorder=4)
            if p == 0 and c == 1:
                ax_t.text(3.47, -i + 0.32,
                          r"$EGF_{%d}$  ($M_w = %.1f$)" % (i + 1, EGF_MW[i]),
                          ha="right", va="center", fontsize=9, color="#222222")
        ax_t.axvline(0, color="#111111", lw=0.8, ls=(0, (5, 1.5, 1, 1.5)), zorder=5)
        ax_t.set_ylim(-4.8, 0.8)
        ax_t.set_yticks([])
        style_time_axis(ax_t, with_labels=False)

        # overlay of the normalised traces
        for i in range(len(traces)):
            t, y, tp, pv = merge(traces[i], rstfs[i], ends[i])
            draw_line(ax_b, t, y, color="#7a7a7a", linewidth=1.1, alpha=0.55, zorder=2)
        for i in range(len(traces)):
            t, y, tp, pv = merge(traces[i], rstfs[i], ends[i])
            if i == 2:
                draw_line(ax_b, tp, pv, color=HIGHLIGHT[c], linewidth=2.2, zorder=4)
            else:
                draw_line(ax_b, tp, pv, color="#1a1a1a", linewidth=1.6, alpha=0.8, zorder=4)
        ax_b.set_ylim(-1.22, 1.25)
        ax_b.set_yticks([-1, 0, 1])
        style_time_axis(ax_b, with_labels=True)
        if c == 1:
            ax_b.tick_params(labelleft=False)
        ax_b.set_xlabel("time (s)", fontsize=9, color="#222222", labelpad=3)
        ax_b.set_ylabel("")
        if p == 0:
            ax_b.text(3.52 if c == 0 else 3.45, 0.78,
                      r"$MAIN_{%d}$ ($M_w = %.1f$)" % (c + 1, MAIN_MW[c]),
                      ha="right", va="center", fontsize=9, color="#222222")

fig.savefig("out.png", dpi=100)
